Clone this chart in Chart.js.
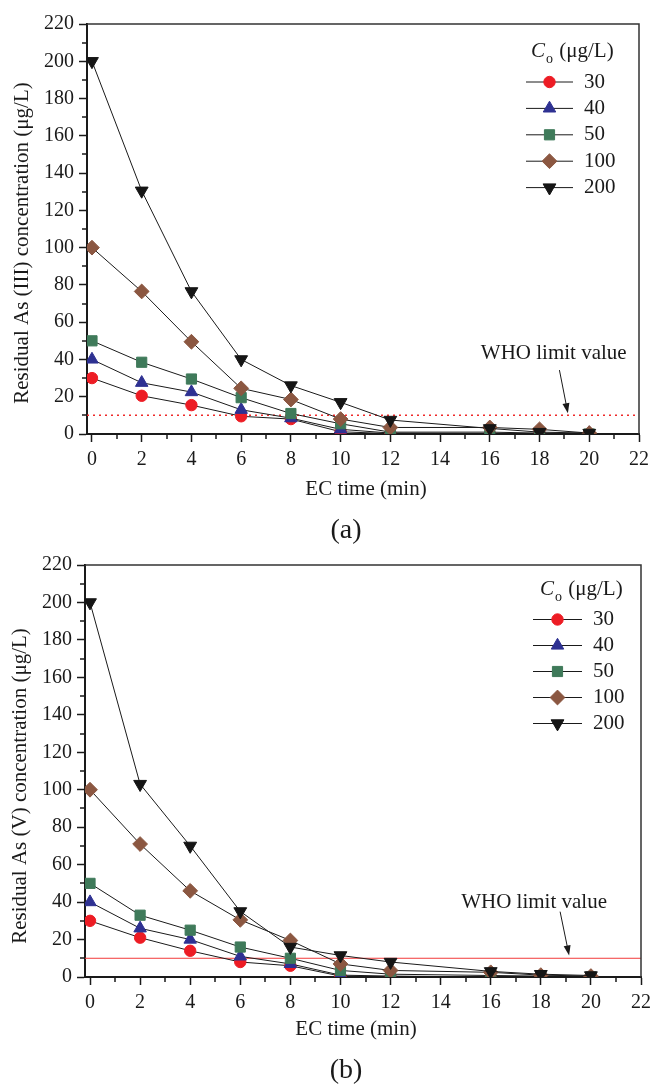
<!DOCTYPE html>
<html><head><meta charset="utf-8">
<script src="https://cdn.jsdelivr.net/npm/chart.js@4/dist/chart.umd.min.js"></script>
<style>
html,body{margin:0;padding:0;background:#fff;}
#wrap{position:relative;width:652px;height:1084px;overflow:hidden;}
canvas{position:absolute;left:0;display:block;}
</style></head><body>
<div id="wrap">
<canvas id="ca" width="652" height="545" style="top:0;width:652px;height:545px"></canvas>
<canvas id="cb" width="652" height="539" style="top:545px;width:652px;height:539px"></canvas>
</div>
<script>
// ---- data ----
const times = [0, 2, 4, 6, 8, 10, 12, 16, 18, 20];
const concLabels = ['30', '40', '50', '100', '200'];
const xTicks = [0, 2, 4, 6, 8, 10, 12, 14, 16, 18, 20, 22];
const xMinorTicks = [1, 3, 5, 7, 9, 11, 13, 15, 17, 19, 21];
const yTicks = [0, 20, 40, 60, 80, 100, 120, 140, 160, 180, 200, 220];
const yMinorTicks = [10, 30, 50, 70, 90, 110, 130, 150, 170, 190, 210];
const whoLimit = 10;

const as3_c30  = [30, 20.5, 15.5, 9.5, 8, 1.2, 0.2, 0, 0, 0];
const as3_c40  = [40, 27.5, 22.5, 13, 8.5, 2.5, 0.5, 0.3, 0, 0.5];
const as3_c50  = [50, 38.5, 29.5, 19.5, 11, 5.5, 1, 1, 0.5, 0];
const as3_c100 = [100, 76.5, 49.5, 24.5, 18.5, 8, 3.5, 3.5, 2.5, 0.5];
const as3_c200 = [200, 130.5, 76.5, 40, 26, 17, 7.5, 3, 1, 0.5];

const as5_c30  = [30, 21, 14, 8, 6, 0.5, 0, 0, 0, 0];
const as5_c40  = [40, 26, 20, 11, 7, 1, 0.5, 0, 0, 0];
const as5_c50  = [50, 33, 25, 16, 10, 3.5, 1.5, 0.8, 0.5, 0];
const as5_c100 = [100, 71, 46, 30.5, 19.5, 7, 3.5, 2.5, 1, 0.5];
const as5_c200 = [200, 103, 70, 35, 16, 11.5, 8, 3, 1.5, 0.8];

// ---- styles ----
const FONT = '"Liberation Serif", "Times New Roman", serif';
const INK = '#1a1a1a';
const markerStyles = [
  {color: '#ed1c24', style: 'circle', r: 5.7, rot: 0},
  {color: '#2e3192', style: 'triangle', r: 7.2, rot: 0},
  {color: '#3f7a5a', style: 'rect', r: 7.2, rot: 0},
  {color: '#8b5741', style: 'rectRot', r: 7.4, rot: 0},
  {color: '#151515', style: 'triangle', r: 7.4, rot: 180}
];

function drawMarker(ctx, m, x, y) {
  if (Chart.helpers && Chart.helpers.drawPoint) {
    ctx.save();
    ctx.fillStyle = m.color; ctx.strokeStyle = m.color; ctx.lineWidth = 1;
    Chart.helpers.drawPoint(ctx, {pointStyle: m.style, radius: m.r, rotation: m.rot, borderWidth: 1}, x, y);
    ctx.restore();
  }
}

const decorPlugin = {
  id: 'decor',
  afterDraw(chart, args, o) {
    const ctx = chart.ctx, ca = chart.chartArea;
    const xs = chart.scales.x, ys = chart.scales.y;
    ctx.save();
    // frame top & right
    ctx.strokeStyle = '#333'; ctx.lineWidth = 1.5;
    ctx.beginPath();
    ctx.moveTo(ca.left, ca.top); ctx.lineTo(ca.right, ca.top); ctx.lineTo(ca.right, ca.bottom);
    ctx.stroke();
    // minor ticks
    ctx.strokeStyle = INK; ctx.lineWidth = 1.5;
    ctx.beginPath();
    xMinorTicks.forEach(v => { const px = Math.round(xs.getPixelForValue(v)); ctx.moveTo(px, ca.bottom); ctx.lineTo(px, ca.bottom + 5); });
    yMinorTicks.forEach(v => { const py = Math.round(ys.getPixelForValue(v)); ctx.moveTo(ca.left, py); ctx.lineTo(ca.left - 5, py); });
    ctx.stroke();
    // axis titles
    ctx.fillStyle = INK;
    ctx.font = '21px ' + FONT;
    ctx.textAlign = 'center'; ctx.textBaseline = 'middle';
    ctx.fillText(o.xTitle, o.xTitlePos[0], o.xTitlePos[1]);
    ctx.save();
    ctx.translate(o.yTitlePos[0], o.yTitlePos[1]);
    ctx.rotate(-Math.PI / 2);
    ctx.fillText(o.yTitle, 0, 0);
    ctx.restore();
    // panel label
    ctx.font = '28px ' + FONT;
    ctx.fillText(o.panel, o.panelPos[0], o.panelPos[1]);
    // WHO annotation
    ctx.font = '21px ' + FONT;
    ctx.fillText('WHO limit value', xs.getPixelForValue(o.whoText[0]), ys.getPixelForValue(o.whoText[1]));
    const ax0 = xs.getPixelForValue(o.arrow[0]), ay0 = ys.getPixelForValue(o.arrow[1]);
    const ax1 = xs.getPixelForValue(o.arrow[2]), ay1 = ys.getPixelForValue(o.arrow[3]);
    const ang = Math.atan2(ay1 - ay0, ax1 - ax0);
    const hl = 10, hw = 3.5;
    ctx.strokeStyle = INK; ctx.lineWidth = 1;
    ctx.beginPath(); ctx.moveTo(ax0, ay0);
    ctx.lineTo(ax1 - Math.cos(ang) * hl * 0.8, ay1 - Math.sin(ang) * hl * 0.8); ctx.stroke();
    ctx.beginPath();
    ctx.moveTo(ax1, ay1);
    ctx.lineTo(ax1 - Math.cos(ang) * hl - Math.sin(ang) * hw, ay1 - Math.sin(ang) * hl + Math.cos(ang) * hw);
    ctx.lineTo(ax1 - Math.cos(ang) * hl + Math.sin(ang) * hw, ay1 - Math.sin(ang) * hl - Math.cos(ang) * hw);
    ctx.closePath(); ctx.fillStyle = INK; ctx.fill();
    // legend
    const L = o.legend;
    ctx.fillStyle = INK; ctx.textAlign = 'left';
    ctx.font = 'italic 21px ' + FONT;
    ctx.fillText('C', L.titleX, L.titleY);
    const cw = ctx.measureText('C').width;
    ctx.font = '14px ' + FONT;
    ctx.fillText('o', L.titleX + cw + 1, L.titleY + 8);
    const ow = ctx.measureText('o').width;
    ctx.font = '21px ' + FONT;
    ctx.fillText(' (\u03bcg/L)', L.titleX + cw + ow + 2, L.titleY);
    concLabels.forEach((lab, i) => {
      const y = L.y0 + L.dy * i;
      ctx.strokeStyle = INK; ctx.lineWidth = 1;
      ctx.beginPath(); ctx.moveTo(L.x1, y); ctx.lineTo(L.x2, y); ctx.stroke();
      drawMarker(ctx, markerStyles[i], (L.x1 + L.x2) / 2, y);
      ctx.fillStyle = INK; ctx.font = '21px ' + FONT; ctx.textAlign = 'left';
      ctx.fillText(lab, L.tx, y);
    });
    ctx.restore();
  }
};

function buildDatasets(seriesList) {
  return seriesList.map((vals, i) => {
    const m = markerStyles[i];
    return {
      label: concLabels[i],
      data: times.map((t, k) => ({x: t, y: vals[k]})),
      borderColor: INK, borderWidth: 1,
      pointStyle: m.style, pointRadius: m.r, pointRotation: m.rot,
      pointBackgroundColor: m.color, pointBorderColor: m.color, pointBorderWidth: 1,
      pointHoverRadius: m.r,
      order: 5 - i, tension: 0, fill: false
    };
  });
}

function makeChart(id, seriesList, cfg) {
  const datasets = buildDatasets(seriesList);
  datasets.push({
    label: 'WHO',
    data: [{x: -0.2, y: whoLimit}, {x: 22, y: whoLimit}],
    borderColor: cfg.whoColor, borderWidth: cfg.whoWidth, borderDash: cfg.whoDash,
    pointRadius: 0, order: 6, fill: false
  });
  return new Chart(document.getElementById(id), {
    type: 'line',
    data: {datasets},
    plugins: [decorPlugin],
    options: {
      responsive: false, animation: false, devicePixelRatio: 1,
      events: [],
      layout: {padding: {top: cfg.padTop, right: cfg.padRight, left: 0, bottom: 0}},
      plugins: {
        legend: {display: false}, tooltip: {enabled: false}, title: {display: false},
        decor: cfg.decor
      },
      scales: {
        x: {
          type: 'linear', min: -0.2, max: 22, position: 'bottom',
          afterBuildTicks: s => { s.ticks = xTicks.map(v => ({value: v})); },
          afterFit: s => { s.height = cfg.xAxisH; s.paddingLeft = 0; s.paddingRight = 0; },
          ticks: {font: {family: FONT, size: 20}, color: INK, padding: 6, maxRotation: 0, autoSkip: false,
                  callback: v => String(v)},
          grid: {drawOnChartArea: false, drawTicks: true, tickLength: 8, tickWidth: 1.5, tickColor: INK},
          border: {display: true, color: INK, width: 2}
        },
        y: {
          type: 'linear', min: 0, max: 220, position: 'left',
          afterBuildTicks: s => { s.ticks = yTicks.map(v => ({value: v})); },
          afterFit: s => { s.width = cfg.yAxisW; s.paddingTop = 0; s.paddingBottom = 0; },
          ticks: {font: {family: FONT, size: 20}, color: INK, padding: 5, autoSkip: false,
                  callback: v => String(v)},
          grid: {drawOnChartArea: false, drawTicks: true, tickLength: 8, tickWidth: 1.5, tickColor: INK},
          border: {display: true, color: INK, width: 2}
        }
      }
    }
  });
}

makeChart('ca', [as3_c30, as3_c40, as3_c50, as3_c100, as3_c200], {
  padTop: 24, padRight: 13, yAxisW: 87, xAxisH: 111,
  whoColor: '#ee2a2a', whoWidth: 1.5, whoDash: [2, 4],
  decor: {
    xTitle: 'EC time (min)', xTitlePos: [366, 489],
    yTitle: 'Residual As (III) concentration (\u03bcg/L)', yTitlePos: [22, 243],
    panel: '(a)', panelPos: [346, 531],
    whoText: [18.57, 43.4], arrow: [18.8, 34.3, 19.14, 11.2],
    legend: {titleX: 531, titleY: 51, y0: 82, dy: 26.4, x1: 526, x2: 573, tx: 584}
  }
});

makeChart('cb', [as5_c30, as5_c40, as5_c50, as5_c100, as5_c200], {
  padTop: 20, padRight: 11, yAxisW: 85, xAxisH: 107,
  whoColor: '#f23a3a', whoWidth: 1, whoDash: [],
  decor: {
    xTitle: 'EC time (min)', xTitlePos: [356, 484],
    yTitle: 'Residual As (V) concentration (\u03bcg/L)', yTitlePos: [20, 241],
    panel: '(b)', panelPos: [346, 526],
    whoText: [17.73, 40], arrow: [18.77, 34.9, 19.13, 11.5],
    legend: {titleX: 540, titleY: 44, y0: 74.5, dy: 26, x1: 533, x2: 582, tx: 593}
  }
});
</script>
</body></html>
